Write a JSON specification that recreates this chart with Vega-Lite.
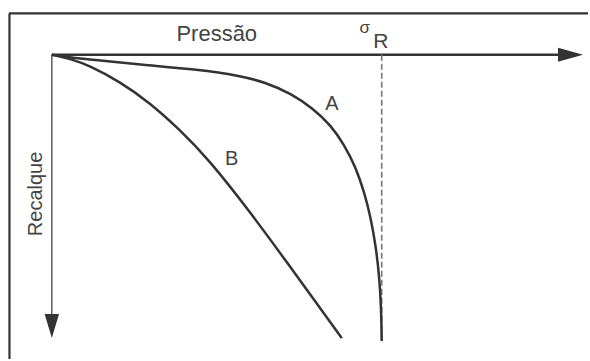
{
  "$schema": "https://vega.github.io/schema/vega-lite/v6.json",
  "width": 590,
  "height": 361,
  "autosize": {"type": "fit", "contains": "padding"},
  "padding": 0,
  "background": "white",
  "config": {"view": {"stroke": null}},
  "datasets": {
    "frame": [
      {"x": -43, "x2": 538, "y": -41.5, "y2": -41.5},
      {"x": -42.5, "x2": -42.5, "y": -41.5, "y2": 306}
    ],
    "haxis": [{"x": 0, "x2": 512, "y": 0, "y2": 0}],
    "vaxis": [{"x": 0, "x2": 0, "y": 0, "y2": 264}],
    "sigmaR": [{"x": 331, "x2": 331, "y": 0, "y2": 290}],
    "curves": [
      {"curve": "A", "pressao": 0, "recalque": 0},
      {"curve": "A", "pressao": 20, "recalque": 3},
      {"curve": "A", "pressao": 50, "recalque": 6},
      {"curve": "A", "pressao": 88, "recalque": 10},
      {"curve": "A", "pressao": 148, "recalque": 15},
      {"curve": "A", "pressao": 188, "recalque": 21},
      {"curve": "A", "pressao": 215, "recalque": 28},
      {"curve": "A", "pressao": 240, "recalque": 39},
      {"curve": "A", "pressao": 262, "recalque": 54},
      {"curve": "A", "pressao": 280, "recalque": 71},
      {"curve": "A", "pressao": 293, "recalque": 90},
      {"curve": "A", "pressao": 305, "recalque": 113},
      {"curve": "A", "pressao": 314, "recalque": 140},
      {"curve": "A", "pressao": 320, "recalque": 164},
      {"curve": "A", "pressao": 325, "recalque": 192},
      {"curve": "A", "pressao": 328.5, "recalque": 222},
      {"curve": "A", "pressao": 330.5, "recalque": 255},
      {"curve": "A", "pressao": 331, "recalque": 288},
      {"curve": "B", "pressao": 0, "recalque": 0},
      {"curve": "B", "pressao": 18, "recalque": 4},
      {"curve": "B", "pressao": 38, "recalque": 11},
      {"curve": "B", "pressao": 68, "recalque": 27},
      {"curve": "B", "pressao": 98, "recalque": 48},
      {"curve": "B", "pressao": 128, "recalque": 75},
      {"curve": "B", "pressao": 158, "recalque": 106},
      {"curve": "B", "pressao": 198, "recalque": 157},
      {"curve": "B", "pressao": 231, "recalque": 202},
      {"curve": "B", "pressao": 265, "recalque": 249},
      {"curve": "B", "pressao": 291, "recalque": 285}
    ],
    "harrow": [{"x": 533, "y": 0}],
    "varrow": [{"x": 0, "y": 285}],
    "labels": [
      {"text": "A", "x": 281, "y": 56},
      {"text": "B", "x": 180.5, "y": 111}
    ],
    "pressao": [{"text": "Pressão", "x": 165.5, "y": -13.5}],
    "sigma": [{"text": "σ", "x": 314, "y": -22}],
    "rsub": [{"text": "R", "x": 330, "y": -7}],
    "recalque": [{"text": "Recalque", "x": -10, "y": 140}]
  },
  "layer": [
    {
      "data": {"name": "frame"},
      "mark": {"type": "rule", "color": "#333333", "strokeWidth": 2.2},
      "encoding": {
        "x": {"field": "x", "type": "quantitative", "scale": {"domain": [-52, 538], "zero": false, "nice": false}, "axis": null},
        "x2": {"field": "x2"},
        "y": {"field": "y", "type": "quantitative", "scale": {"domain": [-55, 306], "zero": false, "nice": false, "reverse": true}, "axis": null},
        "y2": {"field": "y2"}
      }
    },
    {
      "data": {"name": "haxis"},
      "mark": {"type": "rule", "color": "#333333", "strokeWidth": 2.5},
      "encoding": {
        "x": {"field": "x", "type": "quantitative"},
        "x2": {"field": "x2"},
        "y": {"field": "y", "type": "quantitative"},
        "y2": {"field": "y2"}
      }
    },
    {
      "data": {"name": "vaxis"},
      "mark": {"type": "rule", "color": "#666666", "strokeWidth": 1.6},
      "encoding": {
        "x": {"field": "x", "type": "quantitative"},
        "x2": {"field": "x2"},
        "y": {"field": "y", "type": "quantitative"},
        "y2": {"field": "y2"}
      }
    },
    {
      "data": {"name": "sigmaR"},
      "mark": {"type": "rule", "color": "#777777", "strokeWidth": 1.6, "strokeDash": [6, 3]},
      "encoding": {
        "x": {"field": "x", "type": "quantitative"},
        "x2": {"field": "x2"},
        "y": {"field": "y", "type": "quantitative"},
        "y2": {"field": "y2"}
      }
    },
    {
      "data": {"name": "curves"},
      "mark": {"type": "line", "color": "#333333", "strokeWidth": 2.5, "interpolate": "basis"},
      "encoding": {
        "x": {"field": "pressao", "type": "quantitative"},
        "y": {"field": "recalque", "type": "quantitative"},
        "detail": {"field": "curve", "type": "nominal"}
      }
    },
    {
      "data": {"name": "harrow"},
      "mark": {"type": "point", "shape": "M0,0L-1,-0.28L-1,0.28Z", "size": 2500, "filled": true, "color": "#333333", "opacity": 1, "strokeWidth": 0},
      "encoding": {
        "x": {"field": "x", "type": "quantitative"},
        "y": {"field": "y", "type": "quantitative"}
      }
    },
    {
      "data": {"name": "varrow"},
      "mark": {"type": "point", "shape": "M0,0L-0.3,-1L0.3,-1Z", "size": 2304, "filled": true, "color": "#333333", "opacity": 1, "strokeWidth": 0},
      "encoding": {
        "x": {"field": "x", "type": "quantitative"},
        "y": {"field": "y", "type": "quantitative"}
      }
    },
    {
      "data": {"name": "labels"},
      "mark": {"type": "text", "font": "Liberation Sans", "fontSize": 20, "color": "#444444", "align": "center", "baseline": "alphabetic"},
      "encoding": {
        "x": {"field": "x", "type": "quantitative"},
        "y": {"field": "y", "type": "quantitative"},
        "text": {"field": "text"}
      }
    },
    {
      "data": {"name": "pressao"},
      "mark": {"type": "text", "font": "Liberation Sans", "fontSize": 22, "color": "#444444", "align": "center", "baseline": "alphabetic"},
      "encoding": {
        "x": {"field": "x", "type": "quantitative"},
        "y": {"field": "y", "type": "quantitative"},
        "text": {"field": "text"}
      }
    },
    {
      "data": {"name": "sigma"},
      "mark": {"type": "text", "font": "Liberation Sans", "fontSize": 17, "color": "#444444", "align": "center", "baseline": "alphabetic"},
      "encoding": {
        "x": {"field": "x", "type": "quantitative"},
        "y": {"field": "y", "type": "quantitative"},
        "text": {"field": "text"}
      }
    },
    {
      "data": {"name": "rsub"},
      "mark": {"type": "text", "font": "Liberation Sans", "fontSize": 21, "color": "#444444", "align": "center", "baseline": "alphabetic"},
      "encoding": {
        "x": {"field": "x", "type": "quantitative"},
        "y": {"field": "y", "type": "quantitative"},
        "text": {"field": "text"}
      }
    },
    {
      "data": {"name": "recalque"},
      "mark": {"type": "text", "font": "Liberation Sans", "fontSize": 20, "color": "#444444", "align": "center", "baseline": "alphabetic", "angle": 270},
      "encoding": {
        "x": {"field": "x", "type": "quantitative"},
        "y": {"field": "y", "type": "quantitative"},
        "text": {"field": "text"}
      }
    }
  ]
}
